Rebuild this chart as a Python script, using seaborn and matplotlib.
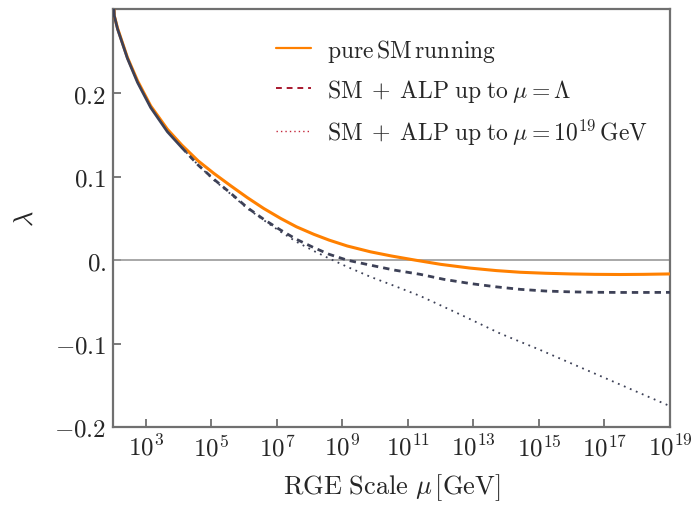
import numpy as np
import pandas as pd
import matplotlib
matplotlib.use("Agg")
import matplotlib.pyplot as plt
import seaborn as sns
from matplotlib.lines import Line2D
from matplotlib.ticker import FixedLocator, FixedFormatter

# ---- data (log10 of mu in GeV, lambda) ----
sm_logmu = [2.0, 2.04, 2.14, 2.44, 2.75, 3.15, 3.66, 4.1, 4.6, 5.08, 5.6, 6.1, 6.6,
            7.12, 7.6, 8.13, 8.6, 9.15, 9.86, 10.5, 11.23, 12.0, 12.9, 13.7, 14.43,
            15.2, 15.96, 16.7, 17.48, 18.2, 19.0]
sm_lambda = [0.33, 0.293, 0.278, 0.243, 0.215, 0.185, 0.157, 0.138, 0.119, 0.104,
             0.089, 0.075, 0.062, 0.050, 0.040, 0.031, 0.024, 0.017, 0.010, 0.005,
             0.0, -0.005, -0.0095, -0.0125, -0.0145, -0.0157, -0.0165, -0.0170,
             -0.0172, -0.0170, -0.0165]

common_logmu = [2.0, 2.04, 2.14, 2.44, 2.75, 3.15, 3.66, 4.1]
common_lambda = [0.33, 0.293, 0.277, 0.242, 0.213, 0.183, 0.154, 0.135]

alp_L_logmu = [4.1, 4.6, 5.08, 5.6, 6.1, 6.6, 7.12, 7.6, 8.13, 8.6, 9.15, 9.86, 10.6,
               11.38, 12.1, 12.9, 13.7, 14.43, 15.2, 15.96, 16.7, 17.48, 18.2, 19.0]
alp_L_lambda = [0.135, 0.114, 0.097, 0.080, 0.063, 0.049, 0.036, 0.025, 0.015, 0.007,
                0.0, -0.006, -0.012, -0.017, -0.023, -0.028, -0.032, -0.035, -0.037,
                -0.038, -0.0385, -0.0387, -0.0387, -0.0386]

alp_19_logmu = [4.1, 4.6, 5.08, 5.6, 6.1, 6.6, 7.12, 7.6, 8.13, 8.6, 9.15, 9.86, 10.6,
                11.38, 12.1, 12.7, 13.82, 15.0, 16.0, 17.0, 18.0, 19.0]
alp_19_lambda = [0.135, 0.114, 0.096, 0.079, 0.062, 0.048, 0.034, 0.022, 0.011, 0.002,
                 -0.008, -0.020, -0.031, -0.043, -0.056, -0.067, -0.088, -0.107,
                 -0.124, -0.141, -0.158, -0.175]

xtick_exps = [3, 5, 7, 9, 11, 13, 15, 17, 19]
ytick_vals = [-0.2, -0.1, 0.0, 0.1, 0.2]
ytick_labels = [r"$-0.2$", r"$-0.1$", r"$0.$", r"$0.1$", r"$0.2$"]

legend_labels = [r"$\mathrm{pure\,SM\,running}$",
                 r"$\mathrm{SM}\;+\;\mathrm{ALP\;up\;to}\;\mu=\Lambda$",
                 r"$\mathrm{SM}\;+\;\mathrm{ALP\;up\;to}\;\mu=10^{19}\,\mathrm{GeV}$"]

# ---- style ----
sns.set_style("white")
plt.rcParams["mathtext.fontset"] = "cm"
plt.rcParams["font.family"] = ["DejaVu Serif"]

ORANGE = "#ff8000"
DARK = "#3d4157"
SPINE = "#707070"

def frame(lm, lam):
    return pd.DataFrame({"mu": 10.0 ** np.asarray(lm), "lam": lam})

fig = plt.figure(figsize=(6.94, 5.06), dpi=100)
ax = fig.add_axes([0.1628, 0.1542, 0.8026, 0.8258])

ax.axhline(0.0, color="#9a9a9a", lw=1.2, zorder=1)

sns.lineplot(data=frame(sm_logmu, sm_lambda), x="mu", y="lam", ax=ax,
             color=ORANGE, lw=2.2, zorder=3, sort=False)
sns.lineplot(data=frame(common_logmu, common_lambda), x="mu", y="lam", ax=ax,
             color=DARK, lw=2.0, zorder=4, sort=False)
sns.lineplot(data=frame(alp_L_logmu, alp_L_lambda), x="mu", y="lam", ax=ax,
             color=DARK, lw=2.0, zorder=4, sort=False)
ax.lines[-1].set_dashes([2.3, 1.8])
sns.lineplot(data=frame(alp_19_logmu, alp_19_lambda), x="mu", y="lam", ax=ax,
             color=DARK, lw=1.3, zorder=4, sort=False)
ax.lines[-1].set_dashes([1, 2.6])

ax.set_xscale("log")
ax.set_xlim(100, 1e19)
ax.set_ylim(-0.2, 0.301)

ax.xaxis.set_major_locator(FixedLocator([10.0 ** e for e in xtick_exps]))
ax.xaxis.set_major_formatter(FixedFormatter([r"$10^{%d}$" % e for e in xtick_exps]))
ax.xaxis.set_minor_locator(FixedLocator([]))
ax.yaxis.set_major_locator(FixedLocator(ytick_vals))
ax.yaxis.set_major_formatter(FixedFormatter(ytick_labels))

ax.tick_params(axis="both", which="major", direction="in", length=6, width=1.3,
               color=SPINE, labelsize=18, pad=5, bottom=True, left=True,
               top=False, right=False)
for s in ax.spines.values():
    s.set_color(SPINE)
    s.set_linewidth(1.6)

ax.set_xlabel(r"$\mathrm{RGE\ Scale}\ \mu\,[\mathrm{GeV}]$", fontsize=19, labelpad=8)
ax.set_ylabel(r"$\lambda$", fontsize=19, labelpad=12)

handles = [Line2D([], [], color=ORANGE, lw=1.6),
           Line2D([], [], color="#a8182e", lw=1.4, dashes=[3, 2.5]),
           Line2D([], [], color="#c4283c", lw=1.0, dashes=[1, 2.2])]
leg = ax.legend(handles, legend_labels, loc="upper left", bbox_to_anchor=(0.255, 0.985),
                frameon=False, fontsize=17, handlelength=1.45, handletextpad=0.7,
                labelspacing=0.55)

fig.savefig("out.png", dpi=100)
